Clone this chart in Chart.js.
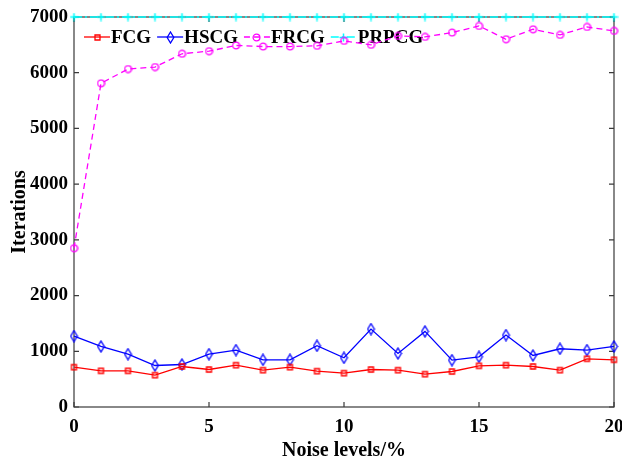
<!DOCTYPE html>
<html>
<head>
<meta charset="utf-8">
<script src="https://cdn.jsdelivr.net/npm/chart.js@4/dist/chart.umd.min.js"></script>
<style>
  html, body { margin: 0; padding: 0; background: #fff; }
  #wrap { width: 622px; height: 458px; }
</style>
</head>
<body>
<div id="wrap"><canvas id="iterChart" width="622" height="458"></canvas></div>
<script>
// values
const noiseLevels = [0, 1, 2, 3, 4, 5, 6, 7, 8, 9, 10, 11, 12, 13, 14, 15, 16, 17, 18, 19, 20];
const fcg   = [715, 649, 649, 571, 727, 673, 751, 661, 715, 643, 607, 673, 661, 589, 637, 739, 751, 727, 661, 865, 847];
const hscg  = [1273, 1087, 949, 745, 763, 949, 1021, 847, 847, 1099, 883, 1399, 961, 1357, 841, 901, 1291, 925, 1045, 1021, 1087];
const frcg  = [2850, 5810, 6066, 6102, 6340, 6387, 6489, 6470, 6470, 6482, 6571, 6500, 6661, 6643, 6720, 6839, 6601, 6780, 6679, 6821, 6750];
const prpcg = [7000, 7000, 7000, 7000, 7000, 7000, 7000, 7000, 7000, 7000, 7000, 7000, 7000, 7000, 7000, 7000, 7000, 7000, 7000, 7000, 7000];
const xTicks = [0, 5, 10, 15, 20];
const yTicks = [0, 1000, 2000, 3000, 4000, 5000, 6000, 7000];

const FONT = '"Liberation Serif", "Times New Roman", serif';

// small canvases used as point markers (matlab-like shapes)
function marker(kind, color){
    const c = document.createElement('canvas');
    let w = 9, h = 9;
    if (kind === 'diamond') { w = 9; h = 13; }
    c.width = w; c.height = h;
    const g = c.getContext('2d');
    g.strokeStyle = color;
    g.lineWidth = 1.3;
    g.beginPath();
    if (kind === 'square') {
        g.rect(2, 2, 5, 5);
    } else if (kind === 'diamond') {
        g.moveTo(4.5, 1); g.lineTo(7.8, 6.5); g.lineTo(4.5, 12); g.lineTo(1.2, 6.5); g.closePath();
    } else if (kind === 'circle') {
        g.arc(4.5, 4.5, 3.4, 0, Math.PI * 2);
    } else if (kind === 'plus') {
        g.lineWidth = 1.5;
        g.moveTo(4.5, 0.5); g.lineTo(4.5, 8.5);
        g.moveTo(0.5, 4.5); g.lineTo(8.5, 4.5);
    }
    g.stroke();
    return c;
}

function pts(ys){
    return noiseLevels.map((x, i) => ({x: x, y: ys[i]}));
}

// box + inward ticks on all four sides
const framePlugin = {
    id: 'frame',
    beforeDatasetsDraw(chart){
        const {ctx, chartArea: a, scales: {x, y}} = chart;
        ctx.save();
        ctx.strokeStyle = '#3a3a3a';
        ctx.lineWidth = 1.2;
        ctx.strokeRect(a.left, a.top, a.right - a.left, a.bottom - a.top);
        ctx.beginPath();
        const tl = 5;
        xTicks.forEach(v => {
            const px = x.getPixelForValue(v);
            ctx.moveTo(px, a.bottom); ctx.lineTo(px, a.bottom - tl);
            ctx.moveTo(px, a.top); ctx.lineTo(px, a.top + tl);
        });
        yTicks.forEach(v => {
            const py = y.getPixelForValue(v);
            ctx.moveTo(a.left, py); ctx.lineTo(a.left + tl, py);
            ctx.moveTo(a.right, py); ctx.lineTo(a.right - tl, py);
        });
        ctx.stroke();
        ctx.restore();
    }
};

// legend inside the plot, line + marker + label, no box
const inlineLegend = {
    id: 'inlineLegend',
    beforeDatasetsDraw(chart){
        const ctx = chart.ctx;
        const yMid = 37;
        let xPos = 84;
        ctx.save();
        ctx.font = 'bold 19px ' + FONT;
        ctx.textBaseline = 'middle';
        chart.data.datasets.forEach(ds => {
            ctx.strokeStyle = ds.borderColor;
            ctx.lineWidth = ds.borderWidth;
            ctx.setLineDash(ds.borderDash || []);
            ctx.beginPath();
            ctx.moveTo(xPos, yMid); ctx.lineTo(xPos + 26, yMid);
            ctx.stroke();
            ctx.setLineDash([]);
            const m = ds.pointStyle;
            ctx.drawImage(m, Math.round(xPos + 13 - m.width / 2), Math.round(yMid - m.height / 2));
            ctx.fillStyle = '#000';
            ctx.fillText(ds.label, xPos + 27, yMid + 1);
            xPos += 27 + ctx.measureText(ds.label).width + 6;
        });
        ctx.restore();
    }
};

new Chart(document.getElementById('iterChart'), {
    type: 'line',
    data: {
        datasets: [{
            label: 'FCG',
            data: pts(fcg),
            borderColor: '#ff0000',
            borderWidth: 1.3,
            pointStyle: marker('square', '#ff0000')
        }, {
            label: 'HSCG',
            data: pts(hscg),
            borderColor: '#0000ff',
            borderWidth: 1.3,
            pointStyle: marker('diamond', '#0000ff')
        }, {
            label: 'FRCG',
            data: pts(frcg),
            borderColor: '#ff00ff',
            borderWidth: 1.3,
            borderDash: [6, 4],
            pointStyle: marker('circle', '#ff00ff')
        }, {
            label: 'PRPCG',
            data: pts(prpcg),
            borderColor: '#00ffff',
            borderWidth: 1.5,
            borderDash: [8, 3, 2, 3],
            pointStyle: marker('plus', '#00ffff')
        }]
    },
    options: {
        responsive: false,
        animation: false,
        devicePixelRatio: 1,
        layout: { padding: { top: 17, right: 8, left: 0, bottom: 0 } },
        elements: {
            line: { tension: 0, fill: false },
            point: { radius: 4 }
        },
        datasets: { line: { clip: false } },
        plugins: {
            legend: { display: false },
            tooltip: { enabled: false }
        },
        scales: {
            x: {
                type: 'linear',
                min: 0,
                max: 20,
                afterBuildTicks: s => { s.ticks = xTicks.map(v => ({value: v})); },
                afterFit: s => { s.height = 51; s.paddingLeft = 0; s.paddingRight = 0; },
                grid: { display: false, drawTicks: false },
                border: { display: false },
                ticks: {
                    color: '#000', padding: 9, maxRotation: 0,
                    callback: v => String(v),
                    font: { family: FONT, size: 19, weight: 'bold' }
                },
                title: {
                    display: true,
                    text: 'Noise levels/%',
                    color: '#000',
                    padding: { top: 0, bottom: -3 },
                    font: { family: FONT, size: 20, weight: 'bold', lineHeight: 1 }
                }
            },
            y: {
                min: 0,
                max: 7000,
                afterBuildTicks: s => { s.ticks = yTicks.map(v => ({value: v})); },
                afterFit: s => { s.width = 74; s.paddingTop = 0; s.paddingBottom = 0; },
                grid: { display: false, drawTicks: false },
                border: { display: false },
                ticks: {
                    color: '#000', padding: 6,
                    callback: v => String(v),
                    font: { family: FONT, size: 19, weight: 'bold' }
                },
                title: {
                    display: true,
                    text: 'Iterations',
                    color: '#000',
                    padding: { top: 10, bottom: 0 },
                    font: { family: FONT, size: 20, weight: 'bold', lineHeight: 1 }
                }
            }
        }
    },
    plugins: [framePlugin, inlineLegend]
});
</script>
</body>
</html>
